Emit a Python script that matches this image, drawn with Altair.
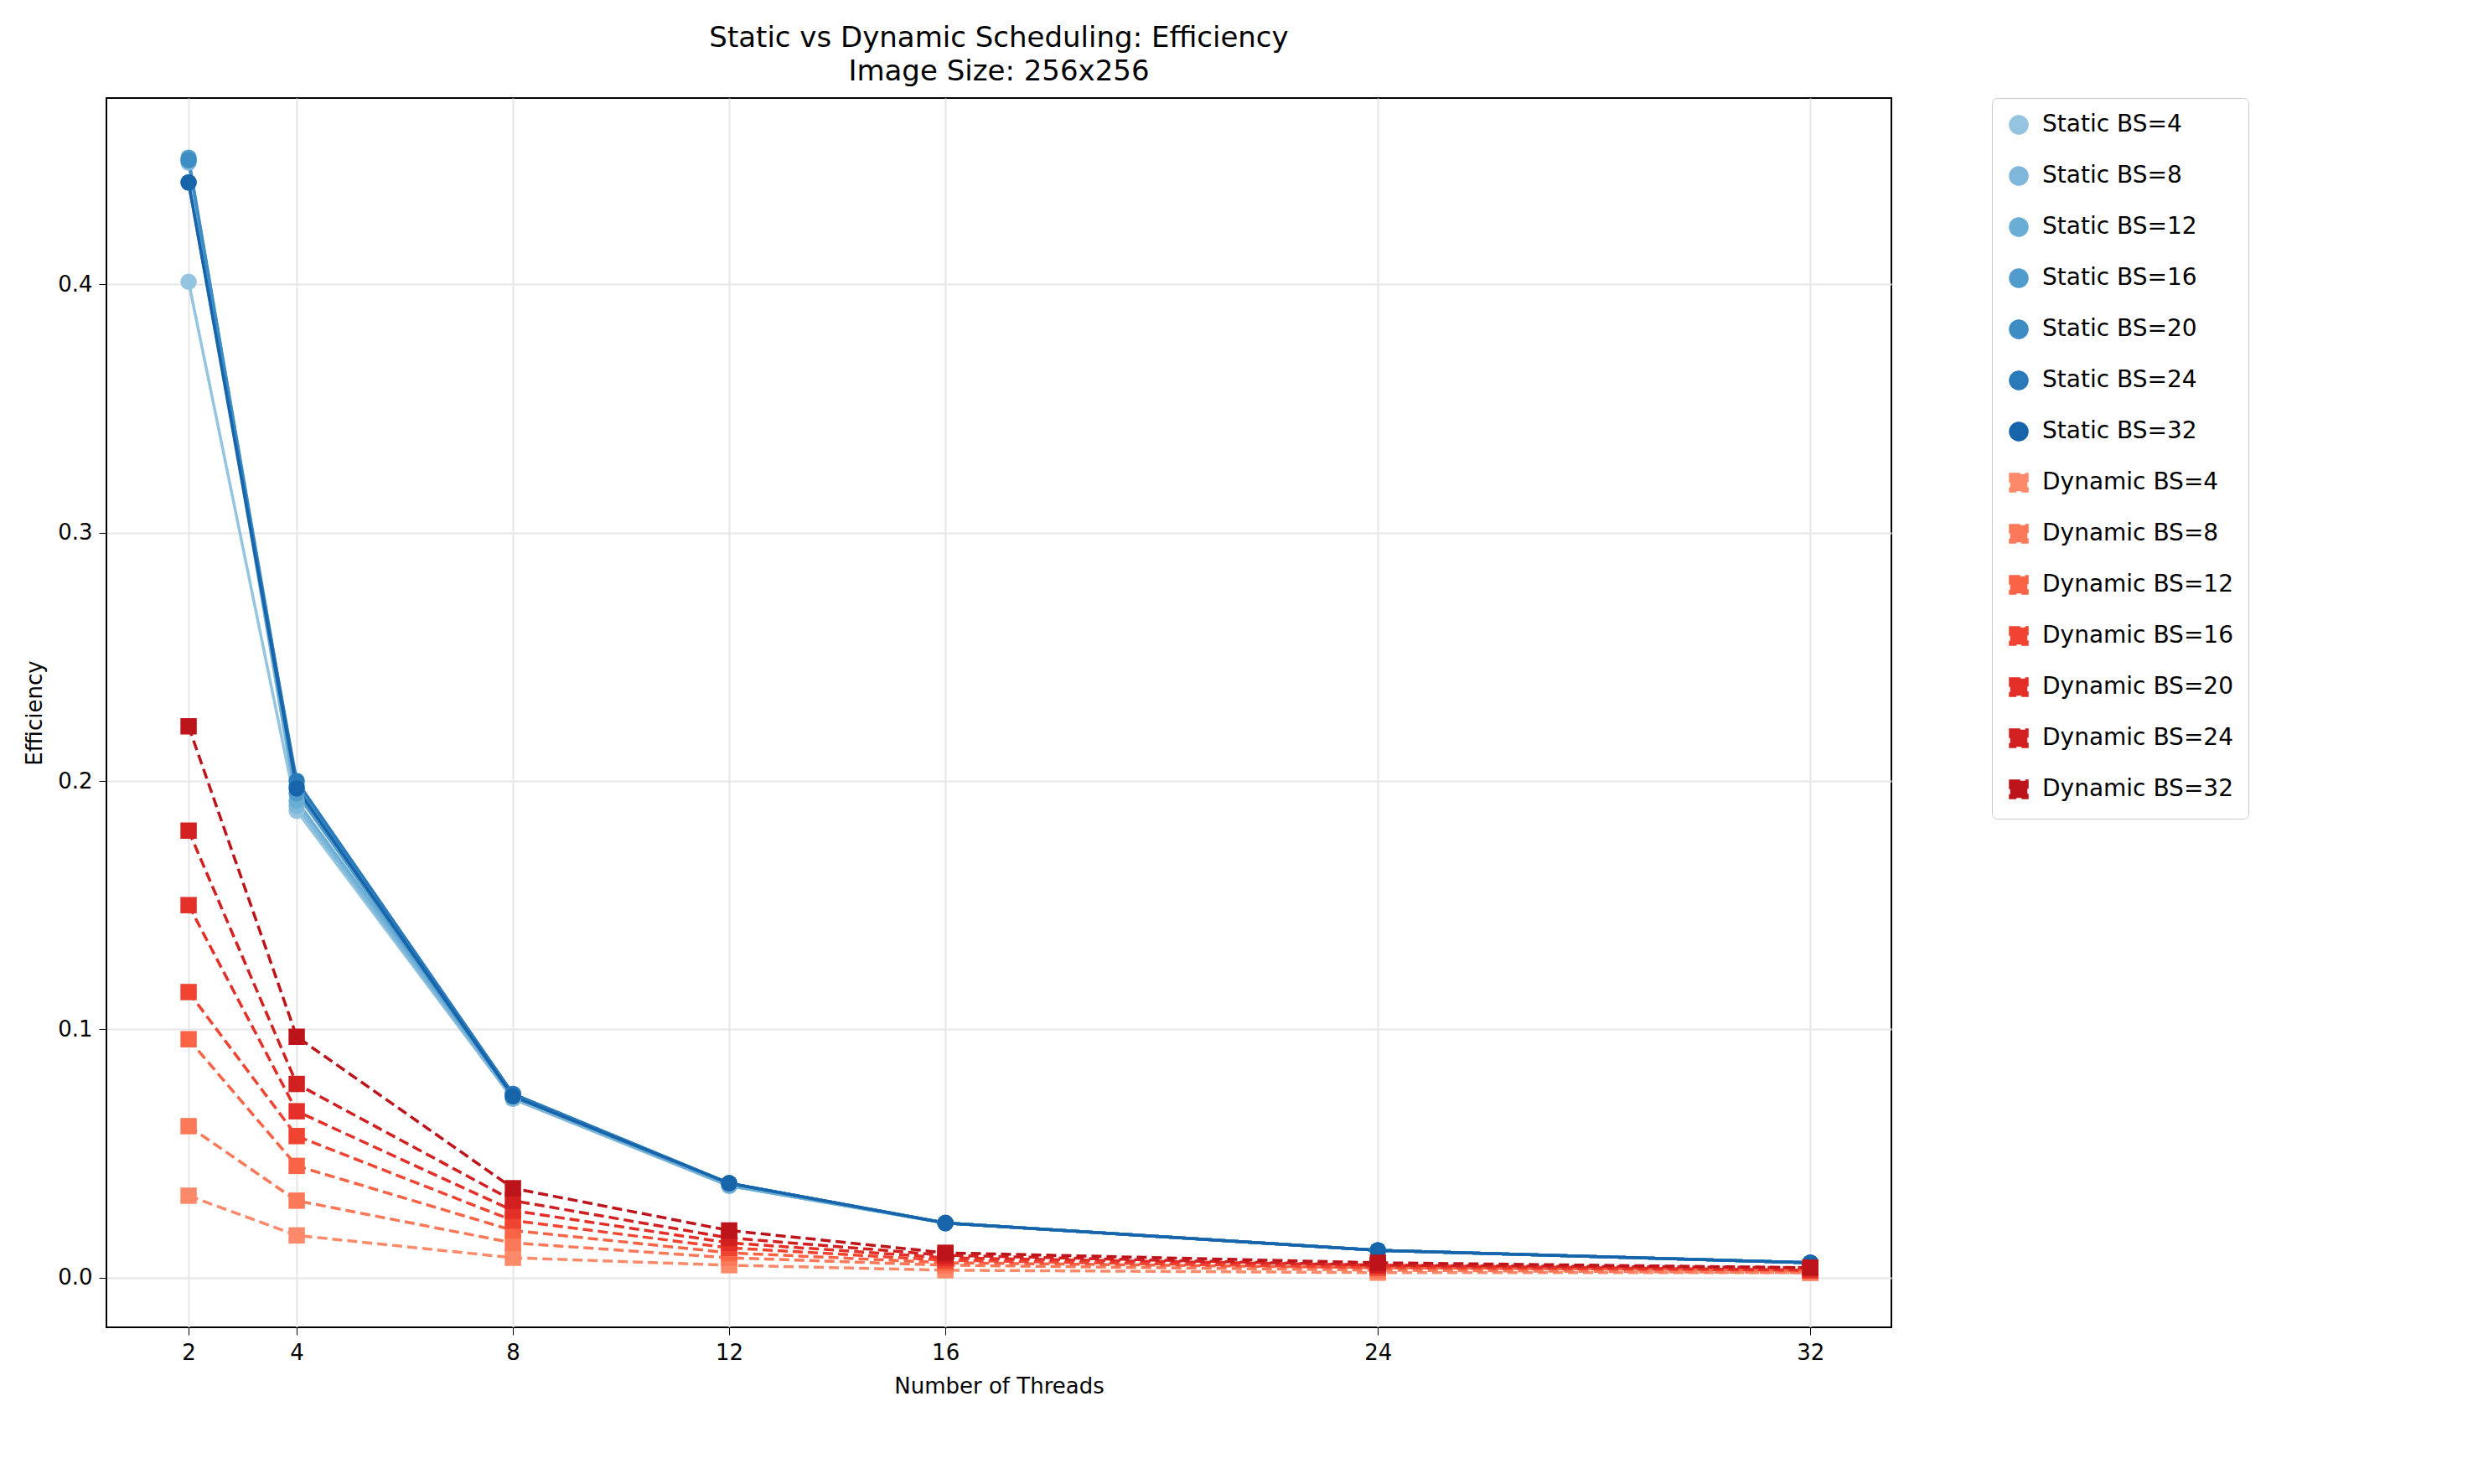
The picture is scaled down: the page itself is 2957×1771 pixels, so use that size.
import pandas as pd
import altair as alt

threads = [2, 4, 8, 12, 16, 24, 32]
block_sizes = [4, 8, 12, 16, 20, 24, 32]

static_eff = {
    4:  [0.401, 0.188, 0.072, 0.037, 0.022, 0.011, 0.006],
    8:  [0.449, 0.190, 0.072, 0.037, 0.022, 0.011, 0.006],
    12: [0.450, 0.192, 0.073, 0.037, 0.022, 0.011, 0.006],
    16: [0.451, 0.195, 0.073, 0.038, 0.022, 0.011, 0.006],
    20: [0.450, 0.198, 0.074, 0.038, 0.022, 0.011, 0.006],
    24: [0.441, 0.200, 0.074, 0.038, 0.022, 0.011, 0.006],
    32: [0.441, 0.197, 0.073, 0.038, 0.022, 0.011, 0.006],
}
dynamic_eff = {
    4:  [0.033, 0.017, 0.008, 0.005, 0.003, 0.002, 0.002],
    8:  [0.061, 0.031, 0.014, 0.008, 0.005, 0.003, 0.002],
    12: [0.096, 0.045, 0.019, 0.010, 0.006, 0.004, 0.003],
    16: [0.115, 0.057, 0.023, 0.012, 0.007, 0.004, 0.003],
    20: [0.150, 0.067, 0.027, 0.014, 0.008, 0.005, 0.003],
    24: [0.180, 0.078, 0.031, 0.016, 0.009, 0.005, 0.004],
    32: [0.222, 0.097, 0.036, 0.019, 0.010, 0.006, 0.004],
}

blues = ['#94c4df', '#7fb7da', '#6aaed6', '#519ccc', '#3d8dc4', '#2a7ab9', '#1764ab']
reds = ['#fc8a6a', '#fb7858', '#f96346', '#f14331', '#e32f27', '#d21f20', '#bc141a']

rows = []
for bs in block_sizes:
    for t, v in zip(threads, static_eff[bs]):
        rows.append({'Threads': t, 'Efficiency': v, 'series': f'Static BS={bs}'})
for bs in block_sizes:
    for t, v in zip(threads, dynamic_eff[bs]):
        rows.append({'Threads': t, 'Efficiency': v, 'series': f'Dynamic BS={bs}'})
df = pd.DataFrame(rows)

domain = [f'Static BS={b}' for b in block_sizes] + [f'Dynamic BS={b}' for b in block_sizes]
legend = alt.Legend(title=None, labelFontSize=28, symbolSize=420, symbolStrokeWidth=3,
                    rowPadding=27, padding=18, strokeColor='#cccccc', cornerRadius=6,
                    labelFont='DejaVu Sans', labelLimit=400, offset=120, labelOffset=14)

color = alt.Color('series:N', scale=alt.Scale(domain=domain, range=blues + reds), legend=legend)
dash = alt.StrokeDash('series:N', scale=alt.Scale(domain=domain,
                      range=[[1, 0]] * 7 + [[12, 6]] * 7), legend=legend)
shape = alt.Shape('series:N', scale=alt.Scale(domain=domain,
                  range=['circle'] * 7 + ['square'] * 7), legend=legend)

x = alt.X('Threads:Q', title='Number of Threads', scale=alt.Scale(domain=[0.48, 33.5], nice=False),
          axis=alt.Axis(values=threads, format='d'))
y = alt.Y('Efficiency:Q', title='Efficiency', scale=alt.Scale(domain=[-0.02, 0.475], nice=False, zero=False),
          axis=alt.Axis(values=[0, 0.1, 0.2, 0.3, 0.4], format='.1f'))

lines = alt.Chart(df).mark_line(strokeWidth=3.5).encode(x=x, y=y, color=color, strokeDash=dash,
                                                        detail='series:N')
points = alt.Chart(df).mark_point(filled=True, size=380, opacity=1).encode(x=x, y=y, color=color, shape=shape)

chart = (lines + points).properties(
    width=2130, height=1467,
    padding={'left': 20, 'top': 20, 'right': 10, 'bottom': 10},
    title=alt.Title(['Static vs Dynamic Scheduling: Efficiency', 'Image Size: 256x256'],
                    fontSize=34, fontWeight='normal', font='DejaVu Sans', offset=14, lineHeight=40),
).configure_axis(
    labelFontSize=26, titleFontSize=26, labelFont='DejaVu Sans', titleFont='DejaVu Sans',
    titleFontWeight='normal', gridColor='#e6e6e6', gridWidth=2, domainColor='black',
    tickColor='black', tickSize=9, labelColor='black', titleColor='black', domain=True,
    titlePadding=14, labelPadding=8,
).configure_view(stroke='black', strokeWidth=2).configure_legend(orient='right')

chart.save('out.html', embed_options={'renderer': 'svg', 'actions': False})
